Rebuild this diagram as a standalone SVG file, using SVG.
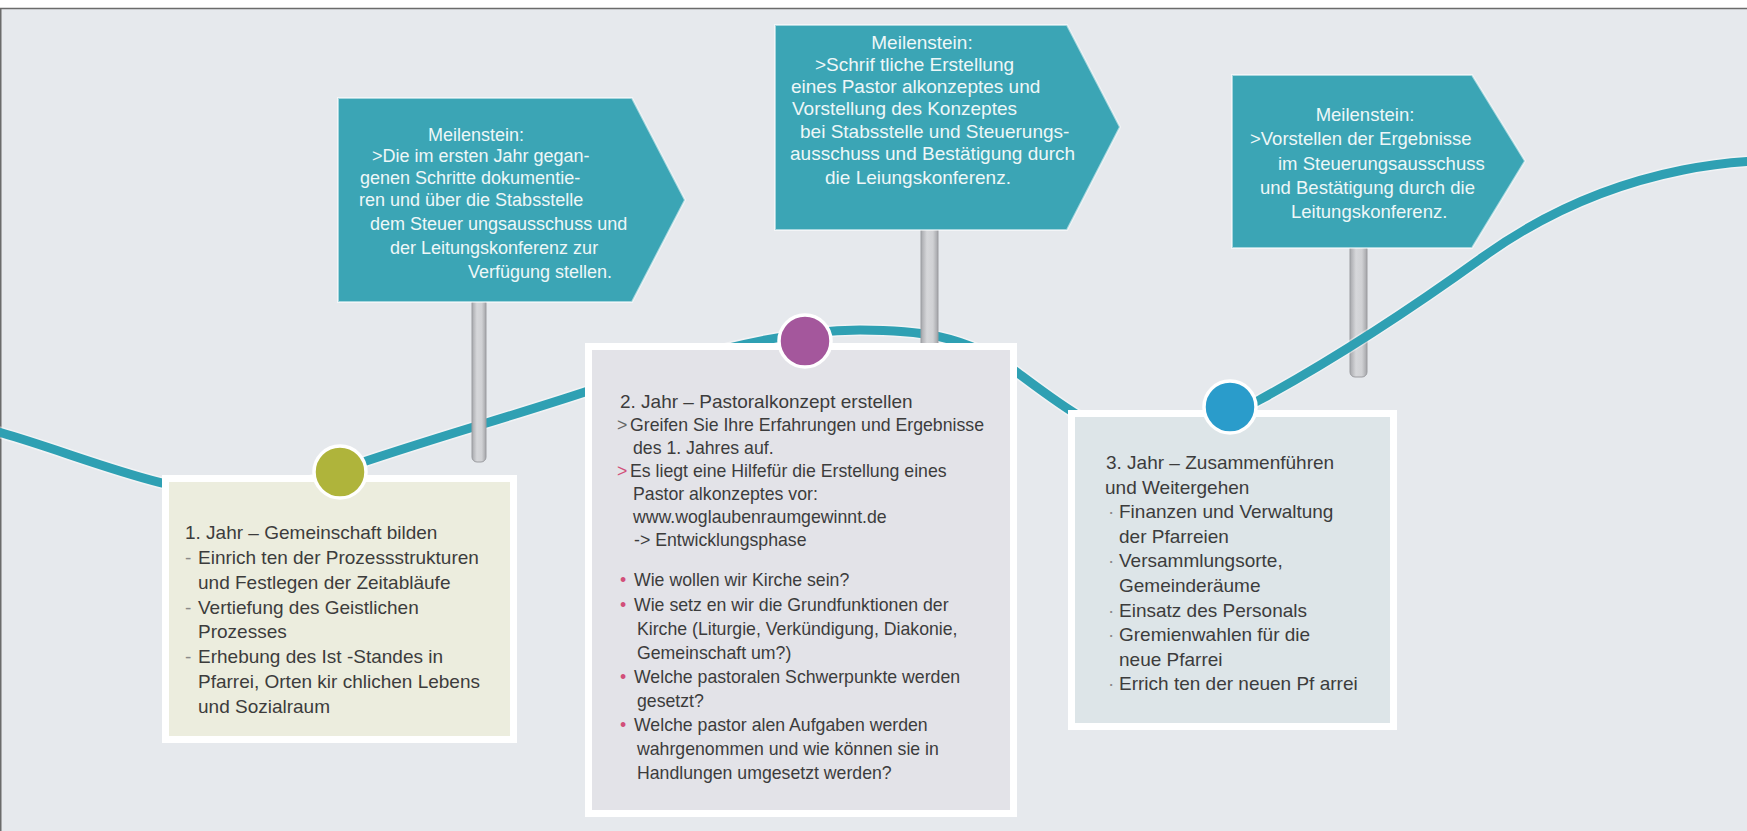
<svg xmlns="http://www.w3.org/2000/svg" width="1747" height="831" viewBox="0 0 1747 831">
<style>
.sign{fill:#3ba5b5;stroke:#ffffff;stroke-opacity:0.55;stroke-width:2}
.st{font-family:"Liberation Sans",Arial,sans-serif;fill:#eef7f8}
.s1{font-size:18px}
.s2{font-size:19px}
.s3{font-size:18.5px}
.bt{font-family:"Liberation Sans",Arial,sans-serif;fill:#3c3c3c}
.b1{font-size:19px}
.b2{font-size:17.7px}
.b3{font-size:19px}
.pk{fill:#d24f7a}
.gr{fill:#8a8a8a}
.frame{fill:#ffffff}
.dot{stroke:#ffffff;stroke-width:3.5}
.curve{fill:none;stroke:#2fa0b3;stroke-width:9;stroke-linecap:round}
.halo{fill:none;stroke:#ffffff;stroke-opacity:0.45;stroke-width:12}
.pole{fill:url(#poleGrad);stroke:#9c9da1;stroke-width:1}
</style>
<defs>
<linearGradient id="poleGrad" x1="0" y1="0" x2="1" y2="0">
<stop offset="0" stop-color="#a7a8ac"/>
<stop offset="0.35" stop-color="#d6d7da"/>
<stop offset="0.7" stop-color="#d0d1d4"/>
<stop offset="1" stop-color="#a3a4a8"/>
</linearGradient>
</defs>
<rect x="0" y="0" width="1747" height="831" fill="#e6e9ed"/>
<rect x="0" y="0" width="1747" height="8" fill="#ffffff"/>
<line x1="0" y1="8.5" x2="1747" y2="8.5" stroke="#6b6b6b" stroke-width="1.5"/>
<line x1="0.75" y1="8" x2="0.75" y2="831" stroke="#6b6b6b" stroke-width="1.5"/>

<g id="milestone3">
<rect class="pole" x="1350" y="244" width="17" height="133" rx="5"/>
<polygon class="sign" points="1232,75 1472,75 1525,161 1472,248 1232,248"/>
<text class="st s3" x="1365" y="121" text-anchor="middle">Meilenstein:</text>
<text class="st s3" x="1250" y="145">&gt;Vorstellen der Ergebnisse</text>
<text class="st s3" x="1278" y="170">im Steuerungsausschuss</text>
<text class="st s3" x="1260" y="194">und Bestätigung durch die</text>
<text class="st s3" x="1291" y="218">Leitungskonferenz.</text>
</g>

<g id="connectors">
<path class="halo" d="M -5 431 C 80 454.8, 165 495, 250 495 C 280 495, 310 480.5, 340 470 C 421.7 441.4, 503.3 419, 585 392 C 676.7 361.7, 768.3 330, 860 330 C 912.7 330, 965.3 333.5, 1018 373 C 1062 406, 1106 440, 1150 440 C 1187.7 440, 1225.3 418.7, 1263 398 C 1336.3 357.7, 1409.7 309.8, 1483 257 C 1549.7 209, 1616.3 183.3, 1683 170 C 1707 165.2, 1731 162.2, 1755 161"/>
<path class="curve" d="M -5 431 C 80 454.8, 165 495, 250 495 C 280 495, 310 480.5, 340 470 C 421.7 441.4, 503.3 419, 585 392 C 676.7 361.7, 768.3 330, 860 330 C 912.7 330, 965.3 333.5, 1018 373 C 1062 406, 1106 440, 1150 440 C 1187.7 440, 1225.3 418.7, 1263 398 C 1336.3 357.7, 1409.7 309.8, 1483 257 C 1549.7 209, 1616.3 183.3, 1683 170 C 1707 165.2, 1731 162.2, 1755 161"/>
</g>

<g id="milestone1">
<rect class="pole" x="472" y="298" width="14" height="164" rx="5"/>
<polygon class="sign" points="338,98 632,98 685,200 632,302 338,302"/>
<text class="st s1" x="476" y="141" text-anchor="middle">Meilenstein:</text>
<text class="st s1" x="372" y="162">&gt;Die im ersten Jahr gegan-</text>
<text class="st s1" x="360" y="184">genen Schritte dokumentie-</text>
<text class="st s1" x="359" y="206">ren und über die Stabsstelle</text>
<text class="st s1" x="370" y="230">dem Steuer ungsausschuss und</text>
<text class="st s1" x="390" y="254">der Leitungskonferenz zur</text>
<text class="st s1" x="468" y="278">Verfügung stellen.</text>
</g>

<g id="milestone2">
<rect class="pole" x="921" y="226" width="17" height="124"/>
<polygon class="sign" points="775,25 1067,25 1120,127 1067,230 775,230"/>
<text class="st s2" x="922" y="49" text-anchor="middle">Meilenstein:</text>
<text class="st s2" x="815" y="71">&gt;Schrif tliche Erstellung</text>
<text class="st s2" x="791" y="93">eines Pastor alkonzeptes und</text>
<text class="st s2" x="792" y="115">Vorstellung des Konzeptes</text>
<text class="st s2" x="800" y="138">bei Stabsstelle und Steuerungs-</text>
<text class="st s2" x="790" y="160">ausschuss und Bestätigung durch</text>
<text class="st s2" x="825" y="184">die Leiungskonferenz.</text>
</g>

<g id="year1">
<rect class="frame" x="162" y="475" width="355" height="268"/>
<rect x="169" y="482" width="341" height="254" fill="#ecedde"/>
<circle class="dot" cx="340" cy="472" r="26" fill="#afb43b"/>
<text class="bt b1" x="185" y="539">1. Jahr – Gemeinschaft bilden</text>
<text class="bt b1" x="185" y="564"><tspan class="gr">-</tspan><tspan x="198">Einrich ten der Prozessstrukturen</tspan></text>
<text class="bt b1" x="198" y="589">und Festlegen der Zeitabläufe</text>
<text class="bt b1" x="185" y="614"><tspan class="gr">-</tspan><tspan x="198">Vertiefung des Geistlichen</tspan></text>
<text class="bt b1" x="198" y="638">Prozesses</text>
<text class="bt b1" x="185" y="663"><tspan class="gr">-</tspan><tspan x="198">Erhebung des Ist -Standes in</tspan></text>
<text class="bt b1" x="198" y="688">Pfarrei, Orten kir chlichen Lebens</text>
<text class="bt b1" x="198" y="713">und Sozialraum</text>
</g>

<g id="year2">
<rect class="frame" x="585" y="343" width="432" height="474"/>
<rect x="592" y="350" width="418" height="460" fill="#e3e3e8"/>
<circle class="dot" cx="805" cy="341" r="26" fill="#a4579c"/>
<text class="bt" x="620" y="408" font-size="19">2. Jahr – Pastoralkonzept erstellen</text>
<text class="bt b2" x="617" y="431"><tspan fill="#666666">&gt;</tspan><tspan x="630">Greifen Sie Ihre Erfahrungen und Ergebnisse</tspan></text>
<text class="bt b2" x="633" y="454">des 1. Jahres auf.</text>
<text class="bt b2" x="617" y="477"><tspan class="pk">&gt;</tspan><tspan x="630">Es liegt eine Hilfefür die Erstellung eines</tspan></text>
<text class="bt b2" x="633" y="500">Pastor alkonzeptes vor:</text>
<text class="bt b2" x="633" y="523">www.woglaubenraumgewinnt.de</text>
<text class="bt b2" x="634" y="546">-&gt; Entwicklungsphase</text>
<text class="bt b2" x="620" y="586"><tspan class="pk">•</tspan><tspan x="634">Wie wollen wir Kirche sein?</tspan></text>
<text class="bt b2" x="620" y="611"><tspan class="pk">•</tspan><tspan x="634">Wie setz en wir die Grundfunktionen der</tspan></text>
<text class="bt b2" x="637" y="635">Kirche (Liturgie, Verkündigung, Diakonie,</text>
<text class="bt b2" x="637" y="659">Gemeinschaft um?)</text>
<text class="bt b2" x="620" y="683"><tspan class="pk">•</tspan><tspan x="634">Welche pastoralen Schwerpunkte werden</tspan></text>
<text class="bt b2" x="637" y="707">gesetzt?</text>
<text class="bt b2" x="620" y="731"><tspan class="pk">•</tspan><tspan x="634">Welche pastor alen Aufgaben werden</tspan></text>
<text class="bt b2" x="637" y="755">wahrgenommen und wie können sie in</text>
<text class="bt b2" x="637" y="779">Handlungen umgesetzt werden?</text>
</g>

<g id="year3">
<rect class="frame" x="1068" y="410" width="329" height="320"/>
<rect x="1075" y="417" width="315" height="306" fill="#dde5e8"/>
<circle class="dot" cx="1230" cy="407" r="26" fill="#2a9ccb"/>
<text class="bt b3" x="1106" y="469">3. Jahr – Zusammenführen</text>
<text class="bt b3" x="1105" y="494">und Weitergehen</text>
<text class="bt b3" x="1108" y="518"><tspan class="gr">·</tspan><tspan x="1119">Finanzen und Verwaltung</tspan></text>
<text class="bt b3" x="1119" y="543">der Pfarreien</text>
<text class="bt b3" x="1108" y="567"><tspan class="gr">·</tspan><tspan x="1119">Versammlungsorte,</tspan></text>
<text class="bt b3" x="1119" y="592">Gemeinderäume</text>
<text class="bt b3" x="1108" y="617"><tspan class="gr">·</tspan><tspan x="1119">Einsatz des Personals</tspan></text>
<text class="bt b3" x="1108" y="641"><tspan class="gr">·</tspan><tspan x="1119">Gremienwahlen für die</tspan></text>
<text class="bt b3" x="1119" y="666">neue Pfarrei</text>
<text class="bt b3" x="1108" y="690"><tspan class="gr">·</tspan><tspan x="1119">Errich ten der neuen Pf arrei</tspan></text>
</g>
</svg>
